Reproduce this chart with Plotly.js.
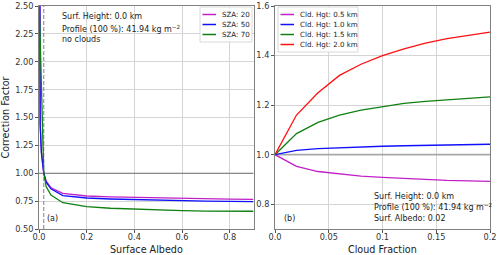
<!DOCTYPE html>
<html><head><meta charset="utf-8">
<script src="https://cdn.plot.ly/plotly-3.0.1.min.js"></script>
<style>html,body{margin:0;padding:0;background:#fff}</style>
</head><body>
<div id="chart" style="width:500px;height:255px"></div>
<script>
// Panel (a): correction factor vs surface albedo
const albedo = [0, 0.005, 0.01, 0.02, 0.03, 0.05, 0.1, 0.2, 0.3, 0.4, 0.5, 0.6, 0.7, 0.8, 0.9];
const sza20 = [6.0, 1.45, 1.2, 1.0, 0.93, 0.87, 0.82, 0.796, 0.789, 0.784, 0.779, 0.775, 0.771, 0.768, 0.766];
const sza50 = [6.0, 1.43, 1.18, 1.0, 0.92, 0.86, 0.80, 0.778, 0.769, 0.763, 0.758, 0.754, 0.750, 0.747, 0.745];
const sza70 = [2.6, 2.2, 1.8, 1.0, 0.88, 0.805, 0.736, 0.70, 0.686, 0.677, 0.670, 0.664, 0.661, 0.660, 0.659];
const szaNames = ['SZA: 20', 'SZA: 50', 'SZA: 70'];

// Panel (b): correction factor vs cloud fraction
const cloudFrac = [0, 0.02, 0.04, 0.06, 0.08, 0.10, 0.12, 0.14, 0.16, 0.18, 0.20];
const hgt05 = [1.0, 0.953, 0.932, 0.921, 0.913, 0.908, 0.903, 0.899, 0.896, 0.894, 0.892];
const hgt10 = [1.0, 1.017, 1.024, 1.028, 1.031, 1.034, 1.036, 1.038, 1.039, 1.041, 1.042];
const hgt15 = [1.0, 1.085, 1.13, 1.16, 1.18, 1.195, 1.207, 1.215, 1.222, 1.228, 1.233];
const hgt20 = [1.0, 1.16, 1.25, 1.32, 1.365, 1.40, 1.427, 1.45, 1.468, 1.483, 1.495];
const hgtNames = ['Cld. Hgt: 0.5 km', 'Cld. Hgt: 1.0 km', 'Cld. Hgt: 1.5 km', 'Cld. Hgt: 2.0 km'];

const leftYTicks = [0.5, 0.75, 1.0, 1.25, 1.5, 1.75, 2.0, 2.25, 2.5];
const leftYText = ['0.50', '0.75', '1.00', '1.25', '1.50', '1.75', '2.00', '2.25', '2.50'];
const leftXTicks = [0, 0.2, 0.4, 0.6, 0.8];
const leftXText = ['0.0', '0.2', '0.4', '0.6', '0.8'];
const rightYTicks = [0.8, 1.0, 1.2, 1.4, 1.6];
const rightYText = ['0.8', '1.0', '1.2', '1.4', '1.6'];
const rightXTicks = [0, 0.05, 0.1, 0.15, 0.2];
const rightXText = ['0.0', '0.05', '0.1', '0.15', '0.2'];

const cM = '#c020c8', cB = '#1010ff', cG = '#108010', cR = '#ff1010';
const FONT = 'DejaVu Sans, sans-serif';
const W = 500, H = 255;
const px = v => v / W, py = v => 1 - v / H;

const traces = [];
traces.push({x: [0, 0.9], y: [1, 1], xaxis: 'x', yaxis: 'y', mode: 'lines', line: {color: '#707070', width: 1}, showlegend: false, hoverinfo: 'skip'});
traces.push({x: [0.02, 0.02], y: [0.5, 2.5], xaxis: 'x', yaxis: 'y', mode: 'lines', line: {color: '#808080', width: 1, dash: '4px,2px'}, showlegend: false, hoverinfo: 'skip'});
traces.push({x: [0, 0.2], y: [1, 1], xaxis: 'x2', yaxis: 'y2', mode: 'lines', line: {color: '#a8a8a8', width: 1.8}, showlegend: false, hoverinfo: 'skip'});

const leftSeries = [[sza20, cM], [sza50, cB], [sza70, cG]];
const rightSeries = [[hgt05, cM], [hgt10, cB], [hgt15, cG], [hgt20, cR]];
leftSeries.forEach((d, i) => {
  traces.push({x: albedo, y: d[0], xaxis: 'x', yaxis: 'y', mode: 'lines', name: szaNames[i], line: {color: d[1], width: 1.3}, showlegend: false});
});
rightSeries.forEach((d, i) => {
  traces.push({x: cloudFrac, y: d[0], xaxis: 'x2', yaxis: 'y2', mode: 'lines', name: hgtNames[i], line: {color: d[1], width: 1.3}, showlegend: false});
});

const axBase = {
  showline: true, mirror: true, linecolor: '#808080', linewidth: 1,
  showgrid: true, gridcolor: '#d5d5d5', gridwidth: 1,
  ticks: 'outside', ticklen: 3, tickcolor: '#555', tickwidth: 1,
  tickfont: {family: FONT, size: 8.2, color: '#333'},
  zeroline: false, tickmode: 'array'
};
const ann = (x, y, text, size, extra) => Object.assign({x: px(x), y: py(y), xref: 'paper', yref: 'paper', text, showarrow: false, xanchor: 'left', yanchor: 'middle', font: {family: FONT, size: size || 8, color: '#222'}}, extra || {});

const shapes = [];
const annotations = [];
// compact legends (matplotlib style)
function legend(x0, y0, w, names, series) {
  const h = 10 * names.length + 5;
  shapes.push({type: 'rect', xref: 'paper', yref: 'paper', x0: px(x0), x1: px(x0 + w), y0: py(y0), y1: py(y0 + h), fillcolor: 'rgba(255,255,255,0.85)', line: {color: '#d8d8d8', width: 1}, layer: 'above'});
  names.forEach((n, i) => {
    const yy = y0 + 7.5 + 10 * i;
    shapes.push({type: 'line', xref: 'paper', yref: 'paper', x0: px(x0 + 2.5), x1: px(x0 + 16), y0: py(yy), y1: py(yy), line: {color: series[i][1], width: 1.5}, layer: 'above'});
    annotations.push(ann(x0 + 20, yy, n, 7.1));
  });
}
legend(200, 7, 52, szaNames, leftSeries);
legend(278, 7, 80, hgtNames, rightSeries);

annotations.push(
  ann(60, 16, 'Surf. Height: 0.0 km'),
  ann(60, 28.5, 'Profile (100 %): 41.94 kg m<sup>−2</sup>'),
  ann(60, 39.5, 'no clouds'),
  ann(45, 218, '(a)'),
  ann(372, 196, 'Surf. Height: 0.0 km'),
  ann(372, 206.5, 'Profile (100 %): 41.94 kg m<sup>−2</sup>'),
  ann(372, 218, 'Surf. Albedo: 0.02'),
  ann(282, 218, '(b)'),
  ann(146, 249, 'Surface Albedo', 9.6, {xanchor: 'center'}),
  ann(382, 249, 'Cloud Fraction', 9.6, {xanchor: 'center'})
);

const layout = {
  width: W, height: H,
  margin: {l: 0, r: 0, t: 0, b: 0},
  paper_bgcolor: '#fff', plot_bgcolor: '#fff',
  font: {family: FONT},
  showlegend: false,
  xaxis: Object.assign({}, axBase, {domain: [px(39), px(253.5)], range: [0, 0.9], tickvals: leftXTicks, ticktext: leftXText, anchor: 'y', ticklabelstandoff: -3}),
  yaxis: Object.assign({}, axBase, {domain: [py(229), py(6)], range: [0.5, 2.5], tickvals: leftYTicks, ticktext: leftYText, anchor: 'x',
    title: {text: 'Correction Factor', font: {family: FONT, size: 9.6, color: '#222'}, standoff: 6}}),
  xaxis2: Object.assign({}, axBase, {domain: [px(275), px(490)], range: [0, 0.2], tickvals: rightXTicks, ticktext: rightXText, anchor: 'y2', ticklabelstandoff: -3}),
  yaxis2: Object.assign({}, axBase, {domain: [py(229), py(6)], range: [0.7, 1.6], tickvals: rightYTicks, ticktext: rightYText, anchor: 'x2'}),
  shapes, annotations
};

Plotly.newPlot('chart', traces, layout, {displayModeBar: false, staticPlot: true});
</script>
</body></html>
